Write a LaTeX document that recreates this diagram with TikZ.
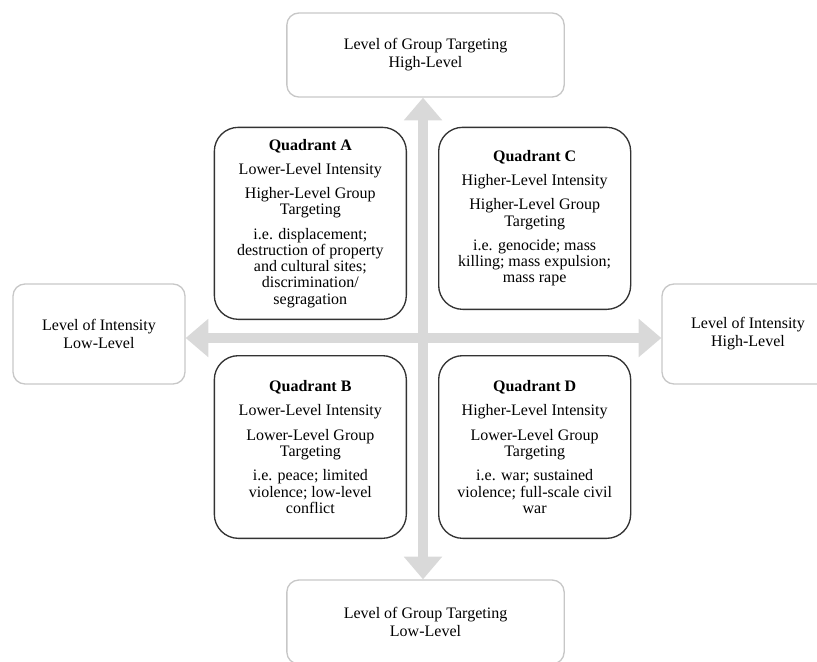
\documentclass[tikz,border=0pt]{standalone}
\usepackage{fontspec}
\setmainfont{Liberation Serif}
\usepackage{tikz}
\usetikzlibrary{arrows.meta, positioning}

\tikzset{
	quad/.style={draw=black!80, line width=1pt, rounded corners=18pt, fill=white, align=center, minimum width=144pt, font=\fontsize{12}{12.2}\selectfont},
	levelbox/.style={draw=black!22, line width=1pt, rounded corners=9pt, align=center, font=\fontsize{12}{13.5}\selectfont},
	axisarrow/.style={draw=black!15, line width=7.5pt, {Triangle[width=27.75pt,length=17pt]}-{Triangle[width=27.75pt,length=17pt]}}
}

\begin{document}
\begin{tikzpicture}[x=0.75pt, y=-0.75pt]
		\clip (0,0) rectangle (817,661);
		\coordinate (ctr) at (423,338);

		\node (gthigh) [levelbox, minimum width=208pt, minimum height=63pt] at (425.5,55) {Level of Group Targeting\\High-Level};
		\node (gtlow) [levelbox, minimum width=208pt, minimum height=63pt] at (425.5,622) {Level of Group Targeting\\Low-Level};
		\node (intlow) [levelbox, minimum width=129pt, minimum height=75pt] at (99,334) {Level of Intensity\\Low-Level};
		\node (inthigh) [levelbox, minimum width=129pt, minimum height=75pt] at (748,334) {Level of Intensity\\High-Level};

		\draw [axisarrow] (ctr |- gthigh.south) -- (ctr |- gtlow.north);
		\draw [axisarrow] (ctr -| intlow.east) -- (ctr -| inthigh.west);

		\node[above left=13.5pt and 12pt of ctr] (qa) [quad, minimum height=144pt] {\textbf{Quadrant A}\\[6pt]Lower-Level Intensity\\[6pt]Higher-Level Group\\Targeting\\[6pt]i.e. displacement;\\destruction of property\\and cultural sites;\\discrimination/\\segragation};
		\node[above right=21pt and 11.25pt of ctr] (qc) [quad, minimum height=136.5pt] {\textbf{Quadrant C}\\[6pt]Higher-Level Intensity\\[6pt]Higher-Level Group\\Targeting\\[6pt]i.e. genocide; mass\\killing; mass expulsion;\\mass rape};
		\node[below left=12.75pt and 12pt of ctr] (qb) [quad, minimum height=137pt] {\textbf{Quadrant B}\\[6pt]Lower-Level Intensity\\[6pt]Lower-Level Group\\Targeting\\[6pt]i.e. peace; limited\\violence; low-level\\conflict};
		\node[below right=12.75pt and 11.25pt of ctr] (qd) [quad, minimum height=137pt] {\textbf{Quadrant D}\\[6pt]Higher-Level Intensity\\[6pt]Lower-Level Group\\Targeting\\[6pt]i.e. war; sustained\\violence; full-scale civil\\war};
	\end{tikzpicture}
\end{document}
